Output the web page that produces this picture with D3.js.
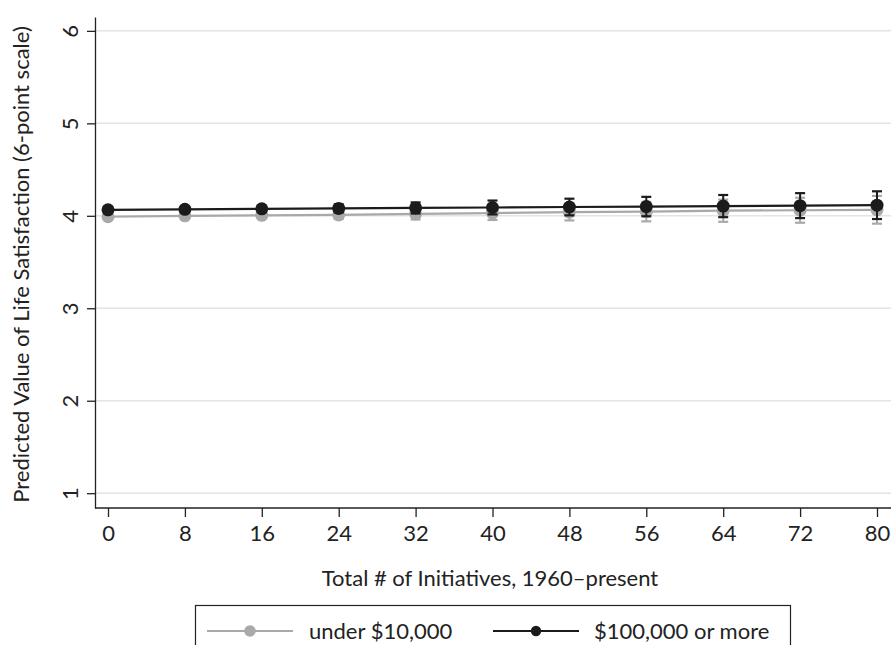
<!DOCTYPE html>
<html>
<head>
<meta charset="utf-8">
<script src="https://cdn.jsdelivr.net/npm/d3@7"></script>
<style>
  html, body { margin: 0; padding: 0; background: #fff; }
  svg { display: block; font-family: Lato, "Open Sans", sans-serif; }
</style>
</head>
<body>
<svg id="chart" width="893" height="645"></svg>
<script>
// Predicted life satisfaction by number of initiatives, two income groups
const initiatives = [0, 8, 16, 24, 32, 40, 48, 56, 64, 72, 80];
const lowIncome = [3.99, 4.0, 4.005, 4.01, 4.02, 4.03, 4.04, 4.045, 4.055, 4.06, 4.065];
const lowIncomeErr = [0.015, 0.02, 0.03, 0.045, 0.06, 0.075, 0.09, 0.105, 0.12, 0.135, 0.15];
const highIncome = [4.065, 4.07, 4.075, 4.08, 4.085, 4.09, 4.095, 4.1, 4.105, 4.11, 4.115];
const highIncomeErr = [0.015, 0.02, 0.03, 0.045, 0.06, 0.075, 0.09, 0.105, 0.12, 0.135, 0.15];
const yTicks = [1, 2, 3, 4, 5, 6];
const seriesNames = ["under $10,000", "$100,000 or more"];
const seriesColors = ["#a9a9a9", "#1b1b1b"];

const FONT = 22;
const svg = d3.select("#chart");
const plotLeft = 95, plotRight = 891, plotTop = 17, plotBottom = 508;

const x = d3.scaleLinear().domain([0, 80]).range([108, 877]);
const y = d3.scaleLinear().domain([0.84, 6.15]).range([plotBottom, plotTop]);

// horizontal gridlines
svg.append("g").selectAll("line").data(yTicks).join("line")
  .attr("x1", plotLeft).attr("x2", plotRight)
  .attr("y1", d => y(d)).attr("y2", d => y(d))
  .attr("stroke", "#e4e4e4").attr("stroke-width", 1.5);

// y axis with rotated tick labels
const yAxis = svg.append("g").attr("transform", `translate(${plotLeft},0)`)
  .call(d3.axisLeft(y).tickValues(yTicks).tickSize(8).tickSizeOuter(0).tickFormat(d3.format("d")));
yAxis.select(".domain").attr("stroke", "#222").attr("stroke-width", 1.3);
yAxis.selectAll(".tick line").attr("stroke", "#222").attr("stroke-width", 1.3);
yAxis.selectAll(".tick text")
  .attr("x", null).attr("dy", null)
  .attr("transform", "translate(-26,0) rotate(-90)")
  .attr("text-anchor", "middle").attr("dominant-baseline", "central")
  .attr("fill", "#222")
  .style("font-size", FONT + "px")
  .style("font-family", "Lato, 'Open Sans', sans-serif");

// x axis
const xAxis = svg.append("g").attr("transform", `translate(0,${plotBottom})`)
  .call(d3.axisBottom(x).tickValues(initiatives).tickSize(9).tickSizeOuter(0).tickFormat(d3.format("d")));
xAxis.select(".domain").attr("d", `M${plotLeft},0H${plotRight}`).attr("stroke", "#222").attr("stroke-width", 1.3);
xAxis.selectAll(".tick line").attr("stroke", "#222").attr("stroke-width", 1.3);
xAxis.selectAll(".tick text")
  .attr("y", 25).attr("dy", "0.35em")
  .attr("fill", "#222")
  .style("font-size", FONT + "px")
  .style("font-family", "Lato, 'Open Sans', sans-serif");

// axis titles
svg.append("text")
  .attr("x", 490).attr("y", 578).attr("dy", "0.35em")
  .attr("text-anchor", "middle").attr("font-size", FONT).attr("fill", "#222")
  .text("Total # of Initiatives, 1960–present");
svg.append("text")
  .attr("transform", `translate(20,${(plotTop + plotBottom) / 2 + 2}) rotate(-90)`)
  .attr("text-anchor", "middle").attr("dominant-baseline", "central")
  .attr("font-size", FONT).attr("fill", "#222")
  .text("Predicted Value of Life Satisfaction (6-point scale)");

// series: error bars, connecting line, markers
const series = [
  { vals: lowIncome, err: lowIncomeErr, color: seriesColors[0] },
  { vals: highIncome, err: highIncomeErr, color: seriesColors[1] }
];
const line = d3.line().x((d, i) => x(initiatives[i])).y(d => y(d));

series.forEach(s => {
  const g = svg.append("g");
  const pts = initiatives.map((v, i) => ({ x: v, y: s.vals[i], e: s.err[i] }));
  g.selectAll(".bar").data(pts).join("line")
    .attr("x1", d => x(d.x)).attr("x2", d => x(d.x))
    .attr("y1", d => y(d.y - d.e)).attr("y2", d => y(d.y + d.e))
    .attr("stroke", s.color).attr("stroke-width", 2);
  ["-", "+"].forEach(sign => {
    g.selectAll(".cap" + (sign === "+" ? "t" : "b")).data(pts).join("line")
      .attr("x1", d => x(d.x) - 5).attr("x2", d => x(d.x) + 5)
      .attr("y1", d => y(sign === "+" ? d.y + d.e : d.y - d.e))
      .attr("y2", d => y(sign === "+" ? d.y + d.e : d.y - d.e))
      .attr("stroke", s.color).attr("stroke-width", 2.2);
  });
  g.append("path").datum(s.vals).attr("d", line)
    .attr("fill", "none").attr("stroke", s.color).attr("stroke-width", 2.2);
  g.selectAll("circle").data(pts).join("circle")
    .attr("cx", d => x(d.x)).attr("cy", d => y(d.y)).attr("r", 6.5)
    .attr("fill", s.color);
});

// legend
const legend = svg.append("g");
legend.append("rect")
  .attr("x", 195.5).attr("y", 605.5).attr("width", 595).attr("height", 60)
  .attr("fill", "#fff").attr("stroke", "#222").attr("stroke-width", 1.2);
const legendItems = [
  { x0: 207, x1: 293, tx: 309, r: 5.8 },
  { x0: 493, x1: 579, tx: 594, r: 5.2 }
];
const legendY = 631;
legendItems.forEach((it, i) => {
  legend.append("line").attr("x1", it.x0).attr("x2", it.x1)
    .attr("y1", legendY).attr("y2", legendY)
    .attr("stroke", seriesColors[i]).attr("stroke-width", 2.2);
  legend.append("circle").attr("cx", (it.x0 + it.x1) / 2).attr("cy", legendY).attr("r", it.r)
    .attr("fill", seriesColors[i]);
  legend.append("text").attr("x", it.tx).attr("y", legendY).attr("dy", "0.35em")
    .attr("font-size", FONT).attr("fill", "#222").text(seriesNames[i]);
});
</script>
</body>
</html>
